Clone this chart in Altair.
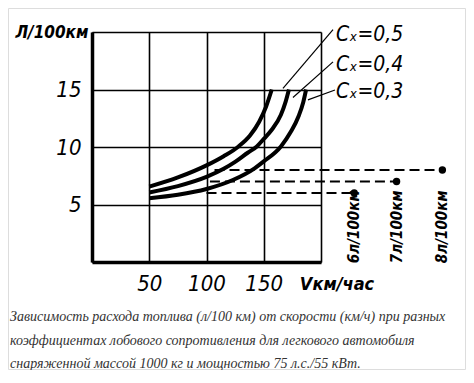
import altair as alt
import pandas as pd

# ---- data ----
series = ["Cx=0,5", "Cx=0,4", "Cx=0,3"]
speed_05 = [50, 75, 100, 115, 128, 138, 146, 152, 157]
fuel_05 = [6.55, 7.35, 8.4, 9.2, 10.05, 11.0, 12.2, 13.5, 15.0]
speed_04 = [50, 75, 100, 115, 125, 136, 144, 150, 157, 165, 169, 172]
fuel_04 = [6.05, 6.6, 7.4, 8.1, 8.7, 9.5, 10.05, 10.7, 11.5, 12.8, 13.9, 15.0]
speed_03 = [50, 75, 100, 123, 142, 150, 165, 173.5, 180.5, 184.5, 187]
fuel_03 = [5.55, 5.85, 6.35, 7.13, 8.15, 8.75, 10.05, 11.3, 12.7, 13.9, 15.0]

levels = [6, 7, 8]
level_labels = ["6л/100км", "7л/100км", "8л/100км"]
level_start = [100, 103, 107]
level_end = [229, 266, 306]

x_ticks = [0, 50, 100, 150, 200]
y_ticks = [0, 5, 10, 15, 20]

caption = [
    "Зависимость расхода топлива (л/100 км) от скорости (км/ч) при разных",
    "коэффициентах лобового сопротивления для легкового автомобиля",
    "снаряженной массой 1000 кг и мощностью 75 л.с./55 кВт.",
]

# annotation placement (data units)
cx_text = ["Cₓ=0,5", "Cₓ=0,4", "Cₓ=0,3"]
cx_text_x = [213, 213, 213]
cx_text_y = [19.7, 17.1, 14.8]
leader_x = [210.5, 210.5, 212.2]
leader_y = [20.2, 17.4, 14.96]
leader_x2 = [166.8, 175.5, 188.6]
leader_y2 = [15.1, 14.3, 14.1]

FONT = "DejaVu Sans Condensed, Liberation Sans Narrow, DejaVu Sans"

rows = []
for s, vs, fs in [(series[0], speed_05, fuel_05), (series[1], speed_04, fuel_04), (series[2], speed_03, fuel_03)]:
    for v, f in zip(vs, fs):
        rows.append({"series": s, "v": v, "l": f})
curves_df = pd.DataFrame(rows)

levels_df = pd.DataFrame({"level": levels, "label": level_labels, "start": level_start, "end": level_end})
cx_df = pd.DataFrame({"t": cx_text, "x": cx_text_x, "y": cx_text_y})
leader_df = pd.DataFrame({"x": leader_x, "y": leader_y, "x2": leader_x2, "y2": leader_y2})

xs = alt.Scale(domain=[0, 200], nice=False, zero=False)
ys = alt.Scale(domain=[0, 20], nice=False, zero=False)

x_axis = alt.Axis(values=x_ticks, grid=True, gridColor="black", gridWidth=1.6, gridOpacity=1,
                  domain=True, domainColor="black", domainWidth=3.5, ticks=False,
                  labelExpr="datum.value == 0 || datum.value == 200 ? '' : datum.label",
                  labelFont=FONT, labelFontSize=22, labelFontStyle="italic", labelColor="black",
                  labelPadding=11, title=None)
y_axis = alt.Axis(values=y_ticks, grid=True, gridColor="black", gridWidth=1.6, gridOpacity=1,
                  domain=True, domainColor="black", domainWidth=3.5, ticks=False,
                  labelExpr="datum.value == 0 || datum.value == 20 ? '' : datum.label",
                  labelFont=FONT, labelFontSize=22, labelFontStyle="italic", labelColor="black",
                  labelPadding=11, title=None)

curves = alt.Chart(curves_df).mark_line(color="black", strokeWidth=4, interpolate="monotone").encode(
    x=alt.X("v:Q", scale=xs, axis=x_axis),
    y=alt.Y("l:Q", scale=ys, axis=y_axis),
    detail="series:N",
)

dashes = alt.Chart(levels_df).mark_rule(color="black", strokeWidth=2, strokeDash=[10, 5]).encode(
    x="start:Q", x2="end:Q", y="level:Q"
)
dots = alt.Chart(levels_df).mark_circle(color="black", size=55, opacity=1).encode(
    x="end:Q", y="level:Q"
)
level_text = alt.Chart(levels_df).mark_text(
    angle=270, align="left", baseline="middle", font=FONT, fontSize=15, fontStyle="italic",
    fontWeight="bold", color="black"
).encode(x="end:Q", y=alt.datum(-0.1), text="label:N")

cx_labels = alt.Chart(cx_df).mark_text(
    align="left", baseline="middle", font=FONT, fontSize=21, fontStyle="italic", color="black"
).encode(x="x:Q", y="y:Q", text="t:N")
leaders = alt.Chart(leader_df).mark_rule(color="black", strokeWidth=1.2).encode(
    x="x:Q", y="y:Q", x2="x2:Q", y2="y2:Q"
)

ytitle = alt.Chart(pd.DataFrame({"t": ["Л/100км"]})).mark_text(
    align="center", baseline="middle", font=FONT, fontSize=17, fontStyle="italic", fontWeight="bold", color="black"
).encode(x=alt.datum(-35), y=alt.datum(19.9), text="t:N")
xtitle = alt.Chart(pd.DataFrame({"t": ["Vкм/час"]})).mark_text(
    align="center", baseline="middle", font=FONT, fontSize=18, fontStyle="italic", fontWeight="bold", color="black"
).encode(x=alt.datum(214), y=alt.datum(-2.0), text="t:N")

cap = alt.Chart(pd.DataFrame({"k": [0]})).mark_text(
    text=caption, align="left", baseline="top", lineHeight=23.5,
    font="Liberation Serif", fontSize=14, fontStyle="italic", color="#333333"
).encode(x=alt.value(-82), y=alt.value(278))

border = alt.Chart(pd.DataFrame({"k": [0]})).mark_rect(
    filled=False, stroke="#dddddd", strokeWidth=1
).encode(x=alt.value(-83.5), y=alt.value(-23.5), x2=alt.value(373.5), y2=alt.value(337.5))

chart = alt.layer(
    border, curves, dashes, dots, level_text, leaders, cx_labels, ytitle, xtitle, cap
).properties(
    width=229, height=230,
    autosize=alt.AutoSizeParams(type="none"),
    padding={"left": 84, "top": 24, "right": 145, "bottom": 108},
).configure_view(stroke="black", strokeWidth=2).configure(background="white")

chart.save("out.html", embed_options={"renderer": "svg", "actions": False})
